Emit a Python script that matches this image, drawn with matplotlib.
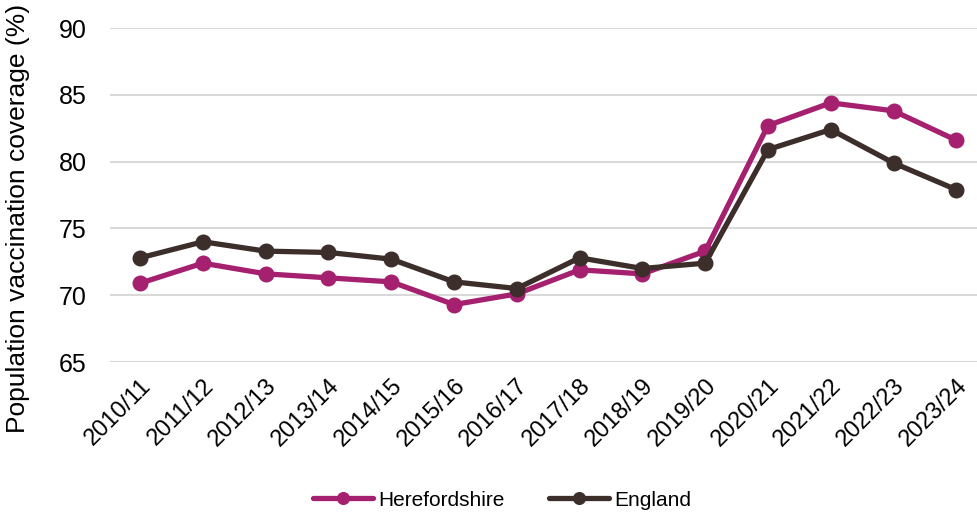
import matplotlib
matplotlib.use("Agg")
import matplotlib.pyplot as plt

years = ["2010/11", "2011/12", "2012/13", "2013/14", "2014/15", "2015/16", "2016/17",
         "2017/18", "2018/19", "2019/20", "2020/21", "2021/22", "2022/23", "2023/24"]
herefordshire = [70.9, 72.4, 71.6, 71.3, 71.0, 69.3, 70.1, 71.9, 71.6, 73.3, 82.7, 84.4, 83.8, 81.6]
england = [72.8, 74.0, 73.3, 73.2, 72.7, 71.0, 70.5, 72.8, 72.0, 72.4, 80.9, 82.4, 79.9, 77.9]
y_ticks = [65, 70, 75, 80, 85, 90]

plt.rcParams["font.family"] = ["Liberation Sans", "DejaVu Sans"]

fig = plt.figure(figsize=(9.77, 5.13), dpi=100)
ax = fig.add_axes([0.1126, 0.2943, 0.8874, 0.6511])

x = list(range(len(years)))
ax.plot(x, herefordshire, color="#A5206F", lw=3.8, marker="o", ms=10.5,
        label="Herefordshire", zorder=3, solid_capstyle="round")
ax.plot(x, england, color="#3B2E2B", lw=3.8, marker="o", ms=10.5,
        label="England", zorder=4, solid_capstyle="round")

ax.set_ylim(65, 90)
ax.set_yticks(y_ticks)
ax.set_xlim(-0.48, 13.33)
ax.set_xticks(x)
ax.set_xticklabels(years, rotation=45, ha="right", rotation_mode="anchor")
ax.tick_params(axis="both", length=0, colors="#000000")
ax.tick_params(axis="x", pad=9, labelsize=17)
ax.tick_params(axis="y", pad=17, labelsize=18)
ax.grid(axis="y", color="#D9D9D9", lw=1.5)
ax.set_axisbelow(True)
for s in ax.spines.values():
    s.set_visible(False)

ax.set_ylabel("Population vaccination coverage (%)", fontsize=19)
ax.yaxis.set_label_coords(-0.092, 0.43)

fig.legend(loc="center", bbox_to_anchor=(0.514, 0.025), ncol=2, frameon=False,
           fontsize=15, handlelength=2.9, handletextpad=0.25, columnspacing=2.1,
           markerscale=0.8)

fig.savefig("out.png", dpi=100)
